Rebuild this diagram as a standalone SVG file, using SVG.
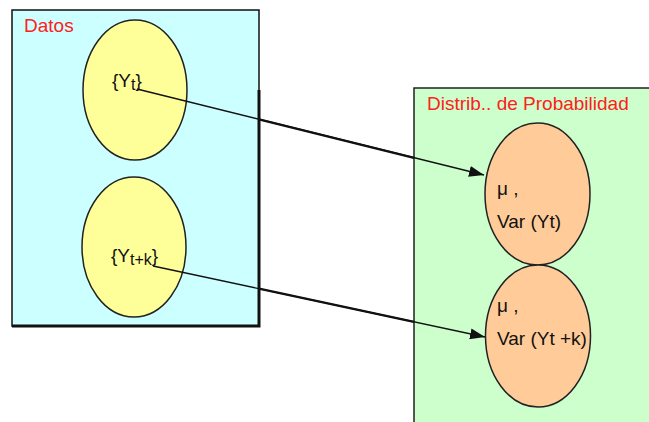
<svg xmlns="http://www.w3.org/2000/svg" width="649" height="422" viewBox="0 0 649 422">
<defs>
<style>
text{font-family:"Liberation Sans",Arial,sans-serif;font-size:19px;fill:#111}
.title{fill:#ff2020}
.el{stroke:#222;stroke-width:1.5}
.yellow{fill:#ffff99}
.peach{fill:#ffcc99}
.conn{stroke:#111;stroke-width:1.3;fill:none}
.thick{stroke:#111;stroke-width:2.4;fill:none}
</style>
<marker id="arr" viewBox="0 0 15 11" refX="15" refY="5.5" markerWidth="15" markerHeight="11" markerUnits="userSpaceOnUse" orient="auto">
<path d="M0,0 L15,5.5 L0,11 Z" fill="#111"/>
</marker>
</defs>
<rect width="649" height="422" fill="#fff"/>
<g id="datos">
<rect x="12" y="10" width="247" height="316" fill="#ccffff" stroke="#111" stroke-width="1.5"/>
<path d="M259,90 V326 H12" fill="none" stroke="#111" stroke-width="3"/>
<text class="title" x="24" y="32">Datos</text>
</g>
<g id="distrib">
<rect x="414" y="88" width="250" height="350" fill="#ccffcc" stroke="#222" stroke-width="1.5"/>
<text class="title" x="427" y="110">Distrib.. de Probabilidad</text>
</g>
<g id="yt">
<ellipse class="el yellow" cx="135" cy="90" rx="52" ry="70"/>
<text x="112" y="87">{Y<tspan font-size="16" dy="3">t</tspan><tspan dy="-3">}</tspan></text>
</g>
<g id="ytk">
<ellipse class="el yellow" cx="134" cy="247" rx="52" ry="70"/>
<text x="111" y="262">{Y<tspan font-size="16" dy="3">t+k</tspan><tspan dy="-3">}</tspan></text>
</g>
<g id="dist1">
<ellipse class="el peach" cx="537.5" cy="194" rx="52.5" ry="71"/>
<text x="497" y="195">μ ,</text>
<text x="497" y="228">Var (Yt)</text>
</g>
<g id="dist2">
<ellipse class="el peach" cx="538" cy="336" rx="52.5" ry="71"/>
<text x="497" y="312">μ ,</text>
<text x="497" y="345">Var (Yt +k)</text>
</g>
<g id="connectors">
<line class="conn" x1="137" y1="89" x2="484" y2="175" marker-end="url(#arr)"/>
<line class="thick" x1="259" y1="119.3" x2="414" y2="157.8"/>
<line class="conn" x1="153" y1="266" x2="485" y2="337" marker-end="url(#arr)"/>
<line class="thick" x1="259" y1="288.7" x2="414" y2="321.8"/>
</g>
</svg>
